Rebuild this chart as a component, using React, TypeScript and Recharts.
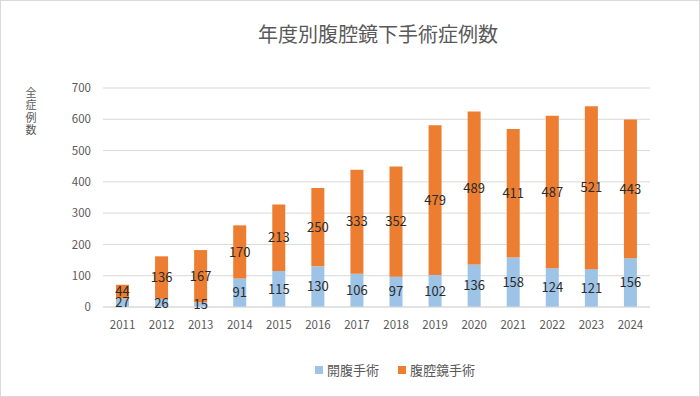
import { BarChart, Bar, XAxis, YAxis, CartesianGrid, Legend, LabelList } from "recharts"

const years = ["2011", "2012", "2013", "2014", "2015", "2016", "2017", "2018", "2019", "2020", "2021", "2022", "2023", "2024"]
const openSurgery = [27, 26, 15, 91, 115, 130, 106, 97, 102, 136, 158, 124, 121, 156]
const laparoscopic = [44, 136, 167, 170, 213, 250, 333, 352, 479, 489, 411, 487, 521, 443]
const yTicks = [0, 100, 200, 300, 400, 500, 600, 700]

const data = years.map((year, i) => ({
    year,
    open: openSurgery[i],
    lap: laparoscopic[i],
}))

const FONT = "'Noto Sans CJK JP', 'Noto Sans', sans-serif"
const BLUE = "#9DC3E6"
const ORANGE = "#ED7D31"
const GRAY = "#595959"

function LegendContent() {
    const items = [
        { name: "開腹手術", color: BLUE },
        { name: "腹腔鏡手術", color: ORANGE },
    ]
    return (
        <div style={{ display: "flex", justifyContent: "center", gap: 19, fontFamily: FONT, fontSize: 13, color: GRAY }}>
            {items.map((it) => (
                <div key={it.name} style={{ display: "flex", alignItems: "center" }}>
                    <span style={{ display: "inline-block", width: 8, height: 8, background: it.color, marginRight: 4 }} />
                    <span>{it.name}</span>
                </div>
            ))}
        </div>
    )
}

export default function App() {
    return (
        <div
            style={{
                position: "absolute",
                left: 0,
                top: 0,
                width: 700,
                height: 397,
                border: "1px solid #D9D9D9",
                boxSizing: "border-box",
                background: "#fff",
                fontFamily: FONT,
            }}
        >
            <div
                style={{
                    position: "absolute",
                    top: 19,
                    left: 0,
                    width: 754,
                    textAlign: "center",
                    fontSize: 20,
                    color: GRAY,
                    lineHeight: "28px",
                }}
            >
                年度別腹腔鏡下手術症例数
            </div>
            <div
                style={{
                    position: "absolute",
                    top: 86,
                    left: 22,
                    writingMode: "vertical-rl",
                    fontSize: 11,
                    letterSpacing: 1.5,
                    color: GRAY,
                }}
            >
                全症例数
            </div>
            <div style={{ position: "absolute", left: -1, top: -1 }}>
                <BarChart width={700} height={397} data={data} margin={{ top: 88, right: 50, left: 0, bottom: 60 }}>
                    <CartesianGrid vertical={false} stroke="#D9D9D9" />
                    <XAxis
                        dataKey="year"
                        axisLine={{ stroke: "#D9D9D9" }}
                        tickLine={false}
                        tick={{ fill: GRAY, fontSize: 11.5, fontFamily: FONT }}
                        tickMargin={8}
                        height={30}
                    />
                    <YAxis
                        width={103}
                        domain={[0, 700]}
                        ticks={yTicks}
                        axisLine={false}
                        tickLine={false}
                        tick={{ fill: GRAY, fontSize: 11.5, fontFamily: FONT }}
                        tickMargin={6}
                    />
                    <Bar dataKey="open" name="開腹手術" stackId="a" fill={BLUE} barSize={13} isAnimationActive={false}>
                        <LabelList dataKey="open" position="center" fill="#2b2b2b" fontSize={13} fontFamily={FONT} />
                    </Bar>
                    <Bar dataKey="lap" name="腹腔鏡手術" stackId="a" fill={ORANGE} barSize={13} isAnimationActive={false}>
                        <LabelList dataKey="lap" position="center" fill="#2b2b2b" fontSize={13} fontFamily={FONT} />
                    </Bar>
                    <Legend
                        layout="horizontal"
                        verticalAlign="middle"
                        align="center"
                        content={<LegendContent />}
                        wrapperStyle={{ top: 360, left: 90, width: 610 }}
                    />
                </BarChart>
            </div>
        </div>
    )
}
